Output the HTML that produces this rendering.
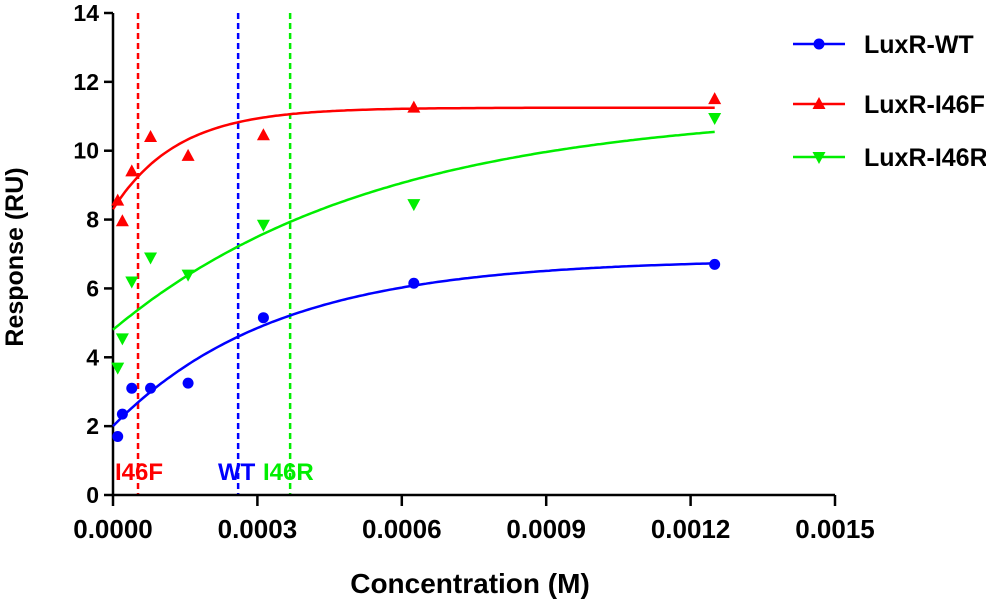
<!DOCTYPE html>
<html><head><meta charset="utf-8"><style>
body{margin:0;background:#fff}
svg{display:block;font-family:"Liberation Sans",Arial,sans-serif;font-weight:bold}
</style></head><body>
<svg id="chart" width="986" height="601" viewBox="0 0 986 601"></svg>
<script>
const conc = [0.98e-5, 1.95e-5, 3.9e-5, 7.8e-5, 1.56e-4, 3.125e-4, 6.25e-4, 1.25e-3];
const wtVals = [1.7, 2.35, 3.1, 3.1, 3.25, 5.15, 6.15, 6.7];
const f46Vals = [8.55, 7.95, 9.4, 10.4, 9.85, 10.45, 11.25, 11.5];
const r46Vals = [3.7, 4.55, 6.2, 6.9, 6.4, 7.85, 8.45, 10.95];
// fit params: [y0, plateau, k]
const wtFit = [2.0, 6.85, 2953];
const f46Fit = [8.3, 11.25, 7470];
const r46Fit = [4.8, 11.2, 1827];
const kdVals = [0.52e-4, 2.6e-4, 3.68e-4];
const kdLabels = ["I46F", "WT", "I46R"];
const xTicks = [0, 0.0003, 0.0006, 0.0009, 0.0012, 0.0015];
const xTickLabels = ["0.0000", "0.0003", "0.0006", "0.0009", "0.0012", "0.0015"];
const yTicks = [0, 2, 4, 6, 8, 10, 12, 14];
const seriesNames = ["LuxR-WT", "LuxR-I46F", "LuxR-I46R"];

const svg = document.getElementById('chart');
const NS = 'http://www.w3.org/2000/svg';
const X0 = 113, X1 = 835, Y0 = 495, Y1 = 13;
const xs = v => X0 + v / 0.0015 * (X1 - X0);
const ys = v => Y0 - v / 14 * (Y0 - Y1);
function mk(tag, attrs, parent) {
  const e = document.createElementNS(NS, tag);
  for (const k in attrs) e.setAttribute(k, attrs[k]);
  (parent || svg).appendChild(e);
  return e;
}
const colors = ["#0000ff", "#ff0000", "#00ee00"];
const kdColors = ["#ff0000", "#0000ff", "#00ee00"];

kdVals.forEach((kd, i) => {
  const l = mk('line', {x1: xs(kd), x2: xs(kd), y1: Y1, y2: Y0, stroke: kdColors[i], 'stroke-width': 2.5, 'stroke-dasharray': '6,4'});
  
  
});
const lblX = [115, 218, 263];
kdVals.forEach((kd, i) => {
  const t = mk('text', {x: lblX[i], y: 480, fill: kdColors[i], 'font-size': 24});
  t.textContent = kdLabels[i];
  
  
});

const ax = mk('path', {d: `M${X0},${Y1}V${Y0}H${X1}`, stroke: '#000', 'stroke-width': 2.5, fill: 'none'});


yTicks.forEach(v => {
  mk('line', {x1: X0 - 9, x2: X0, y1: ys(v), y2: ys(v), stroke: '#000', 'stroke-width': 2.5});
  const t = mk('text', {x: X0 - 14, y: ys(v) + 8, 'text-anchor': 'end', 'font-size': 23});
  t.textContent = v;
  
  
});
xTicks.forEach((v, i) => {
  mk('line', {x1: xs(v), x2: xs(v), y1: Y0, y2: Y0 + 11, stroke: '#000', 'stroke-width': 2.5});
  const t = mk('text', {x: xs(v), y: 538, 'text-anchor': 'middle', 'font-size': 26});
  t.textContent = xTickLabels[i];
  
  
});
const xt = mk('text', {x: 470, y: 593, 'text-anchor': 'middle', 'font-size': 28});
xt.textContent = 'Concentration (M)';


const yt = mk('text', {x: 0, y: 0, 'text-anchor': 'middle', 'font-size': 25, transform: 'translate(23,257) rotate(-90)'});
yt.textContent = 'Response (RU)';



function marker(type, x, y, c, parent) {
  if (type === 0) return mk('circle', {cx: x, cy: y, r: 5.5, fill: c}, parent);
  if (type === 1) return mk('path', {d: `M${x},${y-7}L${x+6.5},${y+5}L${x-6.5},${y+5}Z`, fill: c}, parent);
  return mk('path', {d: `M${x},${y+7}L${x+6.5},${y-5}L${x-6.5},${y-5}Z`, fill: c}, parent);
}
const allVals = [wtVals, f46Vals, r46Vals];
const fits = [wtFit, f46Fit, r46Fit];
allVals.forEach((vals, s) => {
  const g = mk('g', {});
  
  
  const [y0, p, k] = fits[s];
  let d = '';
  for (let i = 0; i <= 200; i++) {
    const x = conc[conc.length - 1] * i / 200;
    const y = y0 + (p - y0) * (1 - Math.exp(-k * x));
    d += (i ? 'L' : 'M') + xs(x).toFixed(1) + ',' + ys(y).toFixed(1);
  }
  const path = mk('path', {d, stroke: colors[s], 'stroke-width': 2.5, fill: 'none'}, g);
  
  
  vals.forEach((v, i) => {
    const m = marker(s, xs(conc[i]), ys(v), colors[s], g);
    
    
  });
});

const legY = [44, 104, 157];
seriesNames.forEach((n, s) => {
  const g = mk('g', {});
  
  
  mk('line', {x1: 793, x2: 845, y1: legY[s], y2: legY[s], stroke: colors[s], 'stroke-width': 2.5}, g);
  marker(s, 819, legY[s], colors[s], g);
  const t = mk('text', {x: 864, y: legY[s] + 9, 'font-size': 25}, g);
  t.textContent = n;
});
</script>
</body></html>
